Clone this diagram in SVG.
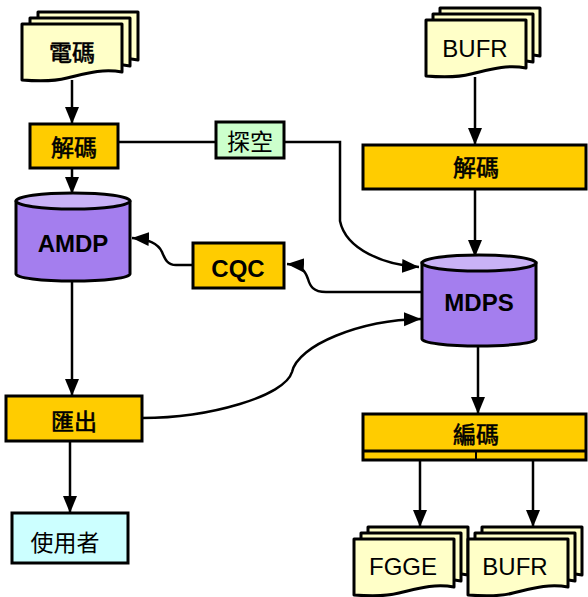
<svg xmlns="http://www.w3.org/2000/svg" xmlns:xlink="http://www.w3.org/1999/xlink" width="588" height="597" viewBox="0 0 588 597">
<style>
.box{stroke:#000;stroke-width:3}
.orange{fill:#FFCC00}
.doc{fill:#FFFFC8;stroke:#000;stroke-width:3;stroke-linejoin:round}
.cyl{fill:#A47EEE;stroke:#000;stroke-width:3}
.cyltop{fill:#C9B2F6;stroke:#000;stroke-width:3}
.conn{fill:none;stroke:#000;stroke-width:2.5}
.cjk{font-family:"Noto Sans CJK TC","Noto Sans CJK SC",sans-serif;font-size:23px;fill:#000;text-anchor:middle;dominant-baseline:central}
.cjkb{stroke:#000;stroke-width:0.6}
.lat{font-family:"Liberation Sans",Arial,sans-serif;font-size:24px;fill:#000;text-anchor:middle}
.latb{font-weight:bold}
</style>
<defs>
<marker id="ah" markerUnits="userSpaceOnUse" markerWidth="18" markerHeight="18" viewBox="0 0 18 18" refX="17" refY="9" orient="auto">
<path d="M0,2 L17,9 L0,16 Z" fill="#000"/>
</marker>
<path id="docshape" d="M0,0 H100 V48 C80,44 62,50 45,54 C30,58 12,57 0,56 Z"/>
</defs>

<g id="connectors">
<line class="conn" x1="72" y1="80" x2="72" y2="124" marker-end="url(#ah)"/>
<line class="conn" x1="72" y1="168" x2="72" y2="194" marker-end="url(#ah)"/>
<line class="conn" x1="72" y1="281" x2="72" y2="396" marker-end="url(#ah)"/>
<line class="conn" x1="70" y1="441" x2="70" y2="513" marker-end="url(#ah)"/>
<line class="conn" x1="118" y1="142" x2="216" y2="142"/>
<path class="conn" d="M284,142 H340 V221 C346,250 385,265 419,267" marker-end="url(#ah)"/>
<path class="conn" d="M422,292 H326 C313,292 310,286 308,279 C305,270 300,265 287,264" marker-end="url(#ah)"/>
<path class="conn" d="M193,265 H176 C167,265 165,259 162,252 C158,243 148,239 132,238" marker-end="url(#ah)"/>
<path class="conn" d="M142,418 C210,418 285,396 292,372 C298,345 360,320 421,319" marker-end="url(#ah)"/>
<line class="conn" x1="475" y1="77" x2="475" y2="145" marker-end="url(#ah)"/>
<line class="conn" x1="475" y1="189" x2="475" y2="257" marker-end="url(#ah)"/>
<line class="conn" x1="478" y1="345" x2="478" y2="414" marker-end="url(#ah)"/>
<line class="conn" x1="420" y1="460" x2="420" y2="527" marker-end="url(#ah)"/>
<line class="conn" x1="533" y1="460" x2="533" y2="527" marker-end="url(#ah)"/>
</g>

<g id="doc-dianma">
<use xlink:href="#docshape" class="doc" transform="translate(38,12)"/>
<use xlink:href="#docshape" class="doc" transform="translate(30,18)"/>
<use xlink:href="#docshape" class="doc" transform="translate(22,24)"/>
<text class="cjk cjkb" x="72" y="51">電碼</text>
</g>

<g id="decode-left">
<rect class="box orange" x="30" y="124" width="88" height="44"/>
<text class="cjk cjkb" x="74" y="146">解碼</text>
</g>

<g id="amdp">
<path class="cyl" d="M16,202 V274 A57,7 0 0 0 130,274 V202 Z"/>
<ellipse class="cyltop" cx="73" cy="201" rx="57" ry="8"/>
<text class="lat latb" x="73" y="252">AMDP</text>
</g>

<g id="export">
<rect class="box orange" x="6" y="396" width="136" height="45"/>
<text class="cjk cjkb" x="74" y="420">匯出</text>
</g>

<g id="user">
<rect class="box" fill="#CCFFFF" x="12" y="513" width="116" height="50"/>
<text class="cjk" x="65" y="541">使用者</text>
</g>

<g id="sounding">
<rect class="box" fill="#CCFFCC" x="216" y="122" width="68" height="36"/>
<text class="cjk" x="250" y="140">探空</text>
</g>

<g id="cqc">
<rect class="box orange" x="193" y="243" width="91" height="45"/>
<text class="lat latb" x="238" y="277">CQC</text>
</g>

<g id="doc-bufr-top">
<use xlink:href="#docshape" class="doc" transform="translate(440,8)"/>
<use xlink:href="#docshape" class="doc" transform="translate(433,14)"/>
<use xlink:href="#docshape" class="doc" transform="translate(426,20)"/>
<text class="lat" x="475" y="57">BUFR</text>
</g>

<g id="decode-right">
<rect class="box orange" x="363" y="145" width="223" height="44"/>
<text class="cjk cjkb" x="476" y="166">解碼</text>
</g>

<g id="mdps">
<path class="cyl" d="M422,263 V339 A57,7 0 0 0 536,339 V263 Z"/>
<ellipse class="cyltop" cx="479" cy="263" rx="57" ry="8"/>
<text class="lat latb" x="479" y="311">MDPS</text>
</g>

<g id="encode">
<rect class="box orange" x="363" y="414" width="223" height="46"/>
<line x1="363" y1="451" x2="586" y2="451" stroke="#000" stroke-width="3"/>
<line x1="476" y1="451" x2="476" y2="460" stroke="#000" stroke-width="2"/>
<text class="cjk cjkb" x="476" y="433">編碼</text>
</g>

<g id="doc-fgge">
<use xlink:href="#docshape" class="doc" transform="translate(368,527)"/>
<use xlink:href="#docshape" class="doc" transform="translate(361,533)"/>
<use xlink:href="#docshape" class="doc" transform="translate(354,539)"/>
<text class="lat" x="403" y="575">FGGE</text>
</g>

<g id="doc-bufr-bottom">
<use xlink:href="#docshape" class="doc" transform="translate(482,527)"/>
<use xlink:href="#docshape" class="doc" transform="translate(475,533)"/>
<use xlink:href="#docshape" class="doc" transform="translate(468,539)"/>
<text class="lat" x="515" y="575">BUFR</text>
</g>
</svg>
